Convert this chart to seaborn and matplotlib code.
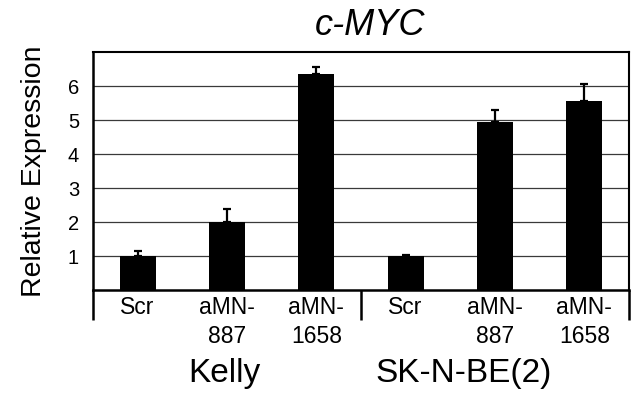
import matplotlib
matplotlib.use("Agg")
import matplotlib.pyplot as plt
import matplotlib.transforms as mtransforms
import seaborn as sns
import pandas as pd
import numpy as np

# ---- data ----
cell_lines = ["Kelly", "Kelly", "Kelly", "SK-N-BE(2)", "SK-N-BE(2)", "SK-N-BE(2)"]
treatments = ["Scr", "aMN-\n887", "aMN-\n1658", "Scr", "aMN-\n887", "aMN-\n1658"]
expression = [1.00, 2.01, 6.35, 1.00, 4.94, 5.56]
error_up = [0.16, 0.37, 0.22, 0.03, 0.35, 0.49]
groups = ["Kelly", "SK-N-BE(2)"]
y_ticks = [1, 2, 3, 4, 5, 6]

bar_ids = [f"{c}|{t}" for c, t in zip(cell_lines, treatments)]
df = pd.DataFrame({"bar": bar_ids, "expr": expression})

sns.set_theme(style="white")
plt.rcParams["font.family"] = ["Liberation Sans", "DejaVu Sans"]
plt.rcParams.update({"text.color": "black", "axes.labelcolor": "black",
                     "xtick.color": "black", "ytick.color": "black"})

fig = plt.figure(figsize=(6.38, 3.96), dpi=100)
ax = fig.add_axes([93 / 638, 1 - 290 / 396, 536 / 638, 238 / 396])

sns.barplot(data=df, x="bar", y="expr", order=bar_ids, color="black",
            saturation=1, width=0.40, errorbar=None, ax=ax, zorder=3,
            edgecolor="black", linewidth=0)

xs = np.arange(len(bar_ids))
ax.errorbar(xs, expression, yerr=[np.zeros(len(error_up)), error_up],
            fmt="none", ecolor="black", elinewidth=1.6, capsize=3.2,
            capthick=1.6, zorder=4)

ax.set_xlim(-0.5, len(bar_ids) - 0.5)
ax.set_ylim(0, 7)
ax.set_yticks(y_ticks)
ax.set_yticklabels([str(t) for t in y_ticks], fontsize=14.5, color="black")
ax.yaxis.grid(True, color="#3a3a3a", linewidth=0.9)
ax.set_axisbelow(True)

ax.set_xticks(xs)
ax.set_xticklabels(treatments, fontsize=16.5, linespacing=1.35, color="black")
ax.tick_params(axis="x", length=0, pad=4)
ax.tick_params(axis="y", length=0, pad=10)
ax.set_xlabel("")
ax.set_ylabel("Relative Expression", fontsize=20.5, color="black")
ax.yaxis.set_label_coords(-0.085, 0.5)

for side in ["top", "right"]:
    ax.spines[side].set_color("black")
    ax.spines[side].set_linewidth(1.5)
for side in ["left", "bottom"]:
    ax.spines[side].set_color("black")
    ax.spines[side].set_linewidth(1.8)

# group separators below the axis
trans = mtransforms.blended_transform_factory(ax.transData, ax.transAxes)
n_per = 3
for b in [-0.5, n_per - 0.5, len(bar_ids) - 0.5]:
    ax.plot([b, b], [0, -0.125], color="black", lw=1.8, transform=trans,
            clip_on=False, solid_capstyle="butt")

group_x = [0.97, 3.65]
for g, gx in zip(groups, group_x):
    ax.text(gx, -0.385, g, transform=trans, ha="center", va="baseline",
            fontsize=24, color="black")

fig.text(370 / 638, 1 - 35 / 396, "c-MYC", ha="center", va="baseline",
         fontsize=26, style="italic", color="black")

fig.savefig("out.png", dpi=100)
